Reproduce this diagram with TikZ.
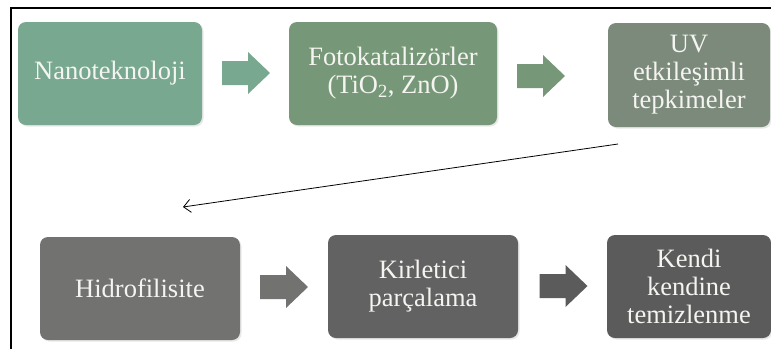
\documentclass[tikz,border=0pt]{standalone}
\usepackage{fontspec}
\setmainfont{Liberation Serif}
\newfontfamily\boxfont{Liberation Serif}
\usetikzlibrary{arrows.meta,shadows}
\definecolor{cA}{HTML}{78A890}
\definecolor{cB}{HTML}{779878}
\definecolor{cC}{HTML}{7C8A7C}
\definecolor{cD}{HTML}{727270}
\definecolor{cE}{HTML}{636262}
\definecolor{cF}{HTML}{5B5B5B}
\definecolor{txt}{HTML}{F4F4F0}
\tikzset{
  box/.style={rounded corners=8pt, inner sep=2pt, align=center, text=txt,
    font=\boxfont\fontsize{26.5}{28}\selectfont,
    drop shadow={opacity=0.18, shadow xshift=1.5pt, shadow yshift=-1.5pt}},
  barrow/.pic={\fill (-24,-12) -- (2,-12) -- (2,-21) -- (24,0) -- (2,21) -- (2,12) -- (-24,12) -- cycle;},
  thinarrow/.style={line width=0.8pt, -{Straight Barb[length=7pt,width=13pt]}}
}
\begin{document}
\begin{tikzpicture}[x=1pt,y=-1pt]
\useasboundingbox (0,0) rectangle (771,349);
\fill[white] (0,0) rectangle (771,349);
% frame
\draw[line width=2pt] (11,349) -- (11,8) -- (771,8);
% boxes
\node[box, fill=cA, minimum width=184pt, minimum height=103pt] (n1) at (110,73.5) {Nanoteknoloji};
\node[box, fill=cB, minimum width=208pt, minimum height=103pt] (n2) at (393,73.5) {Fotokatalizörler\\(TiO\textsubscript{2}, ZnO)};
\node[box, fill=cC, minimum width=162pt, minimum height=104pt] (n3) at (689,75) {UV\\etkileşimli\\tepkimeler};
\node[box, fill=cD, minimum width=200pt, minimum height=103pt] (n4) at (140,288.5) {Hidrofilisite};
\node[box, fill=cE, minimum width=190pt, minimum height=103pt] (n5) at (423,286.5) {Kirletici\\parçalama};
\node[box, fill=cF, minimum width=164pt, minimum height=103pt] (n6) at (689,286.5) {Kendi\\kendine\\temizlenme};
% block arrows
\coordinate (a1) at (246,73);
\coordinate (a2) at (541,76);
\coordinate (a3) at (284,287);
\coordinate (a4) at (563.5,286);
\pic[fill=cA] at (a1) {barrow};
\pic[fill=cB] at (a2) {barrow};
\pic[fill=cD] at (a3) {barrow};
\pic[fill=cF] at (a4) {barrow};
% long thin arrow
\coordinate (ls) at (618,144);
\coordinate (le) at (183,207);
\draw[thinarrow] (ls) -- (le);
\end{tikzpicture}
\end{document}
